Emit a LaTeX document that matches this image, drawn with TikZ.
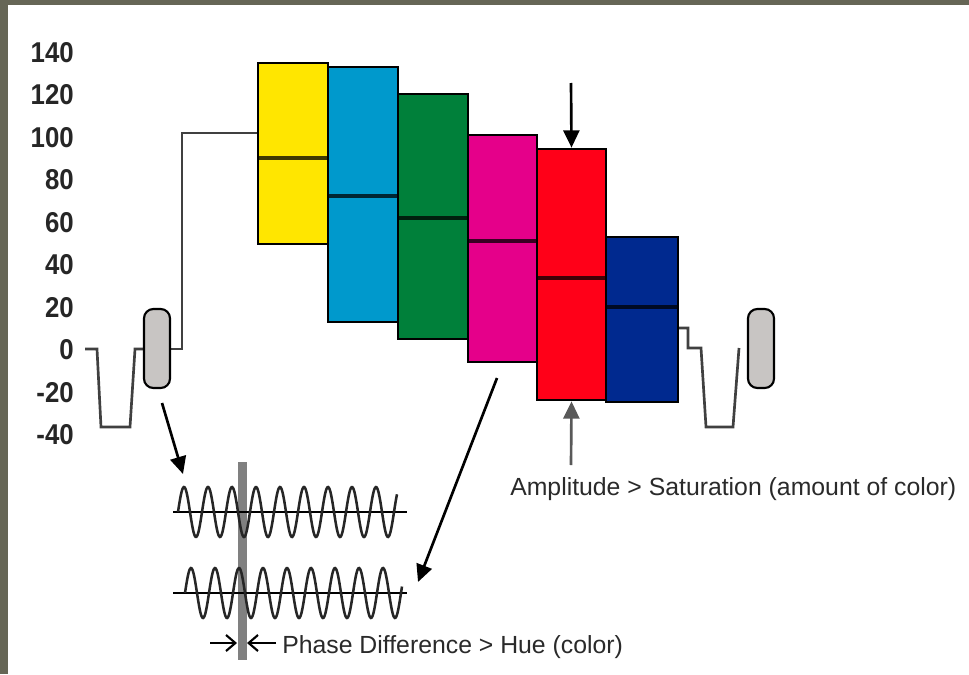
\documentclass[tikz,border=0pt]{standalone}
\usepackage{fontspec}
\setmainfont{Liberation Sans}
\newfontfamily\axisfont[FakeStretch=0.9]{Liberation Sans}
\usetikzlibrary{arrows.meta,fit}
\definecolor{framecol}{RGB}{102,102,86}
\definecolor{cyel}{HTML}{FFE600}
\definecolor{ccya}{HTML}{0099CC}
\definecolor{cgre}{HTML}{00803A}
\definecolor{cmag}{HTML}{E5008A}
\definecolor{cred}{HTML}{FF0018}
\definecolor{cblu}{HTML}{00298F}
\definecolor{pillgray}{HTML}{C8C5C3}
\definecolor{txt}{HTML}{2A2A2A}
\begin{document}
\begin{tikzpicture}[x=0.75pt,y=-0.75pt,
  colbox/.style={draw=black,line width=2pt,inner sep=0pt},
  midline/.style={draw=black,opacity=0.75,line width=2.8pt},
  sig/.style={draw=black!75,line width=2pt,line join=miter},
  pill/.style={draw=black,fill=pillgray,line width=1.6pt,rounded corners=7pt},
  ylab/.style={anchor=east,inner sep=0pt,font=\axisfont\bfseries\fontsize{21.5}{21.5}\selectfont,text=black!85},
  note/.style={inner sep=0pt,font=\fontsize{18.6}{18.6}\selectfont,text=txt},
  bigarrow/.style={draw=black,line width=2pt,-{Triangle[length=13pt,width=12pt]}},
  wave/.style={draw=black!85,line width=1.9pt},
  waxis/.style={draw=black,line width=2pt},
  phasearrow/.style={draw=black,line width=1.6pt,-{Straight Barb[length=7pt,width=12pt]}}
]
\useasboundingbox (0,0) rectangle (969,674);
\fill[white] (0,0) rectangle (969,674);
\fill[framecol] (0,0) rectangle (969,5);
\fill[framecol] (0,0) rectangle (8,674);

% axis labels
\foreach \v/\py in {140/52.5,120/95,100/137.5,80/180,60/222.5,40/265,20/307.5,0/350,-20/392.5,-40/435}
  \node[ylab] (lab\v) at (74,\py) {\v};

% left signal
\draw[sig] (85,349) -- (97,349) -- (101,427) -- (130,427) -- (135,349) -- (146,349);
\draw[sig] (168,349) -- (182,349) -- (182,133) -- (259,133);
\node[pill,fit={(144,309) (170,388)},inner sep=0pt] (lpill) {};

% colour boxes
\node[colbox,fill=cyel,fit={(258,63) (328,244)}] (yb) {};
\node[colbox,fill=ccya,fit={(328,67) (398,322)}] (cb) {};
\node[colbox,fill=cgre,fit={(398,94) (468,339)}] (gb) {};
\node[colbox,fill=cmag,fit={(468,135) (537,362)}] (mb) {};
\node[colbox,fill=cred,fit={(537,149) (606,400)}] (rb) {};
\node[colbox,fill=cblu,fit={(606,237) (678,402)}] (bb) {};
\draw[midline] (259,158) -- (327,158);
\draw[midline] (329,196) -- (397,196);
\draw[midline] (399,218) -- (467,218);
\draw[midline] (469,241) -- (536,241);
\draw[midline] (538,278) -- (605,278);
\draw[midline] (607,307) -- (677,307);

% right signal
\draw[sig] (679,328) -- (688,328) -- (688,348) -- (701,348) -- (706,427) -- (733,427) -- (739,348);
\node[pill,fit={(748,309) (774,388)},inner sep=0pt] (rpill) {};

% amplitude arrows
\coordinate (atop) at (571,83);
\coordinate (abot) at (571,465);
\draw[bigarrow] (atop) -- (rb.north);
\draw[bigarrow,draw=black!65] (abot) -- (rb.south);
\node[note,anchor=base west] (amp) at (510,495) {Amplitude > Saturation (amount of color)};

% waves
\fill[black!50] (237.5,462) rectangle (246.5,660);
\draw[waxis] (173,512) -- (407,512);
\draw[waxis] (173,593) -- (407,593);
\draw[wave] plot[domain=178:397,samples=300] (\x,{512-25*sin(15*(\x-178))});
\draw[wave] plot[domain=185:402,samples=300] (\x,{593-25*sin(15*(\x-185))});

% pointer arrows
\coordinate (p1s) at (162,403);
\coordinate (p1e) at (183,474);
\coordinate (p2s) at (497,378);
\coordinate (p2e) at (418,582);
\draw[bigarrow] (p1s) -- (p1e);
\draw[bigarrow] (p2s) -- (p2e);

% phase difference
\coordinate (phl) at (210,643);
\coordinate (phlt) at (237,643);
\coordinate (phr) at (276,643);
\coordinate (phrt) at (247,643);
\draw[phasearrow] (phl) -- (phlt);
\draw[phasearrow] (phr) -- (phrt);
\node[note,anchor=base west] (phase) at (282,653) {Phase Difference > Hue (color)};
\end{tikzpicture}
\end{document}
